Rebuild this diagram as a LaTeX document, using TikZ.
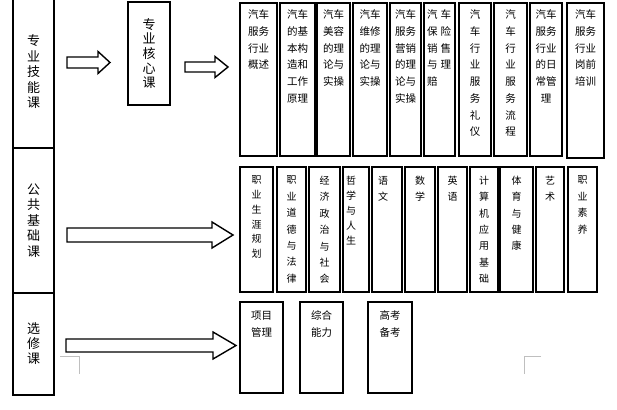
\documentclass[tikz,border=0pt]{standalone}
\usepackage{fontspec}
\newfontfamily\cjk{Noto Sans CJK SC}
\usetikzlibrary{positioning}
\definecolor{cropgray}{HTML}{BFBFBF}
% top-aligned cell: width, height, top pad, text
\newcommand\cellbox[4]{\parbox[t][#2pt][t]{#1pt}{\centering\vspace*{#3pt}#4}}
% outlined block arrow: x0, tip x, head base x, y, shaft half, head half
\newcommand\fatarrow[6]{\draw[barrow] (#1,#4-#5) -- (#3,#4-#5) -- (#3,#4-#6) -- (#2,#4)
  -- (#3,#4+#6) -- (#3,#4+#5) -- (#1,#4+#5) -- cycle;}

\begin{document}
\begin{tikzpicture}[
  x=1pt,y=-1pt,font=\cjk,
  side/.style={draw,line width=2.2pt,inner sep=0pt,outer sep=0pt,anchor=north west},
  cbox/.style={draw,line width=1.6pt,inner sep=0pt,outer sep=0pt,anchor=north west},
  barrow/.style={draw,line width=1.4pt,fill=white,line join=miter},
  cropline/.style={draw=cropgray,line width=0.8pt},
]
\useasboundingbox (0,0) rectangle (617,409);

% left column
\node[side] (skill) at (13,-4) {\parbox[c][152pt][c]{41pt}{\centering\fontsize{13}{15.5}\selectfont 专\\业\\技\\能\\课}};
\node[side] (public) at (13,148) {\parbox[c][145pt][c]{41pt}{\centering\fontsize{13}{15.5}\selectfont 公\\共\\基\\础\\课}};
\node[side] (elective) at (13,293) {\parbox[c][102pt][c]{41pt}{\centering\fontsize{13}{15}\selectfont 选\\修\\课}};
\node[cbox] (core) at (128,2) {\parbox[c][103pt][c]{42pt}{\centering\fontsize{13}{14.6}\selectfont 专\\业\\核\\心\\课}};

% major courses
\foreach \xa/\xb/\hh/\txt [count=\i] in {
  240/277/153/{汽车\\服务\\行业\\概述},
  280/315/153/{汽车\\的基\\本构\\造和\\工作\\原理},
  317/350/153/{汽车\\美容\\的理\\论与\\实操},
  353/387/153/{汽车\\维修\\的理\\论与\\实操},
  390/421/153/{汽车\\服务\\营销\\的理\\论与\\实操},
  424/455/153/{\raggedright\leftskip=3pt 汽\hspace{3pt}车\\保\hspace{3pt}险\\销\hspace{3pt}售\\与\hspace{3pt}理\\赔},
  459/491/153/{汽\\车\\行\\业\\服\\务\\礼\\仪},
  494/527/153/{汽\\车\\行\\业\\服\\务\\流\\程},
  530/562/153/{汽车\\服务\\行业\\的日\\常管\\理},
  567/604/155/{汽车\\服务\\行业\\岗前\\培训}} {
  \pgfmathsetmacro\w{\xb-\xa}
  \node[cbox] (prof\i) at (\xa,3) {\cellbox{\w}{\hh}{7}{\fontsize{10.5}{16.7}\selectfont\txt}};
}

% public courses
\foreach \xa/\xb/\txt [count=\i] in {
  240/273/{\fontsize{10}{14.7}\selectfont 职\\业\\生\\涯\\规\\划},
  277/306/{职\\业\\道\\德\\与\\法\\律},
  309/340/{经\\济\\政\\治\\与\\社\\会},
  343/369/{\fontsize{10}{15}\selectfont\raggedright\leftskip=3pt 哲\\学\\与\\人\\生},
  372/402/{\raggedright\leftskip=6pt 语\\文},
  405/435/{数\\学},
  438/467/{英\\语},
  470/498/{计\\算\\机\\应\\用\\基\\础},
  500/533/{体\\育\\与\\健\\康},
  536/564/{艺\\术},
  568/597/{职\\业\\素\\养}} {
  \pgfmathsetmacro\w{\xb-\xa}
  \node[cbox] (pub\i) at (\xa,167) {\cellbox{\w}{125}{9}{\fontsize{10}{16.4}\selectfont\txt}};
}

% electives
\foreach \xa/\xb/\txt [count=\i] in {
  240/283/{项目\\管理},
  300/343/{综合\\能力},
  368/412/{高考\\备考}} {
  \pgfmathsetmacro\w{\xb-\xa}
  \node[cbox] (opt\i) at (\xa,302) {\cellbox{\w}{91}{9}{\fontsize{10.5}{17}\selectfont\txt}};
}

% arrows
\fatarrow{67}{110}{98}{62.5}{5.5}{11}
\fatarrow{185}{228}{215}{67}{5}{10.5}
\fatarrow{67}{233}{212}{235}{7}{13}
\fatarrow{66}{236}{213}{345.5}{6.5}{13.5}

% page corner marks
\draw[cropline] (60,356) -- (79,356) -- (79,374);
\draw[cropline] (541,356) -- (524,356) -- (524,374);
\end{tikzpicture}
\end{document}
